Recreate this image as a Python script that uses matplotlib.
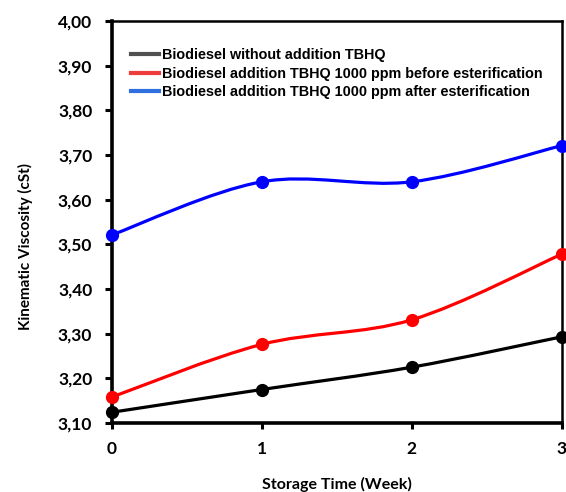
import matplotlib

matplotlib.use("Agg")
import matplotlib.pyplot as plt
from matplotlib.path import Path
from matplotlib.patches import PathPatch
from matplotlib.lines import Line2D

# data
weeks = [0, 1, 2, 3]
no_tbhq = [3.124, 3.175, 3.225, 3.293]
tbhq_before = [3.158, 3.276, 3.331, 3.478]
tbhq_after = [3.521, 3.640, 3.640, 3.721]
labels = [
    "Biodiesel without addition TBHQ",
    "Biodiesel addition TBHQ 1000 ppm before esterification",
    "Biodiesel addition TBHQ 1000 ppm after esterification",
]
y_ticks = [3.10, 3.20, 3.30, 3.40, 3.50, 3.60, 3.70, 3.80, 3.90, 4.00]


def smooth_path(xs, ys):
    """Excel style smoothed line as cubic bezier segments"""
    pts = list(zip(xs, ys))
    ext = [pts[0]] + pts + [pts[-1]]
    verts = [pts[0]]
    codes = [Path.MOVETO]
    for i in range(1, len(ext) - 2):
        p0, p1, p2, p3 = ext[i - 1], ext[i], ext[i + 1], ext[i + 2]
        c1 = (p1[0] + (p2[0] - p0[0]) / 6.0, p1[1] + (p2[1] - p0[1]) / 6.0)
        c2 = (p2[0] - (p3[0] - p1[0]) / 6.0, p2[1] - (p3[1] - p1[1]) / 6.0)
        verts += [c1, c2, p2]
        codes += [Path.CURVE4] * 3
    return Path(verts, codes)


fig = plt.figure(figsize=(5.66, 4.92), dpi=100)
ax = fig.add_axes([0.1973, 0.1402, 0.7951, 0.8171])

series = [(no_tbhq, "#000000"), (tbhq_before, "#ff0000"), (tbhq_after, "#0000ff")]
for values, color in series:
    ax.add_patch(PathPatch(smooth_path(weeks, values), facecolor="none",
                           edgecolor=color, lw=2.3, zorder=3, clip_on=False))
    ax.plot(weeks, values, "o", color=color, markersize=8.5, zorder=4,
            clip_on=False)

ax.set_xlim(0, 3)
ax.set_ylim(3.10, 4.00)
ax.set_xticks(weeks)
ax.set_xticklabels([str(w) for w in weeks])
ax.set_yticks(y_ticks)
ax.set_yticklabels(["{:.2f}".format(v).replace(".", ",") for v in y_ticks])

for lab in ax.get_xticklabels() + ax.get_yticklabels():
    lab.set_fontfamily("Lato")
    lab.set_fontweight("bold")
    lab.set_fontsize(12.5)
ax.tick_params(axis="y", direction="out", length=5, width=2.2, pad=9)
ax.tick_params(axis="x", direction="out", length=4, width=2.2, pad=9)

for side in ["left", "bottom"]:
    ax.spines[side].set_linewidth(2.6)
for side in ["top", "right"]:
    ax.spines[side].set_linewidth(1.8)

ax.set_xlabel("Storage Time (Week)", fontfamily="Lato", fontweight="bold",
              fontsize=11.5)
ax.set_ylabel("Kinematic Viscosity (cSt)", fontfamily="Lato", fontweight="bold",
              fontsize=11)
ax.xaxis.set_label_coords(0.5, -0.135)
ax.yaxis.set_label_coords(-0.175, 0.44)

handles = [
    Line2D([], [], color="#505050", lw=3),
    Line2D([], [], color="#ee3b3b", lw=3),
    Line2D([], [], color="#2f6fe0", lw=3),
]
leg = ax.legend(handles, labels, loc="upper left", bbox_to_anchor=(0.028, 0.95),
                frameon=False, handlelength=1.9, handletextpad=0.2,
                labelspacing=0.32, borderpad=0,
                prop={"family": "Liberation Sans", "weight": "bold", "size": 10.35})

fig.savefig("out.png", dpi=100)
